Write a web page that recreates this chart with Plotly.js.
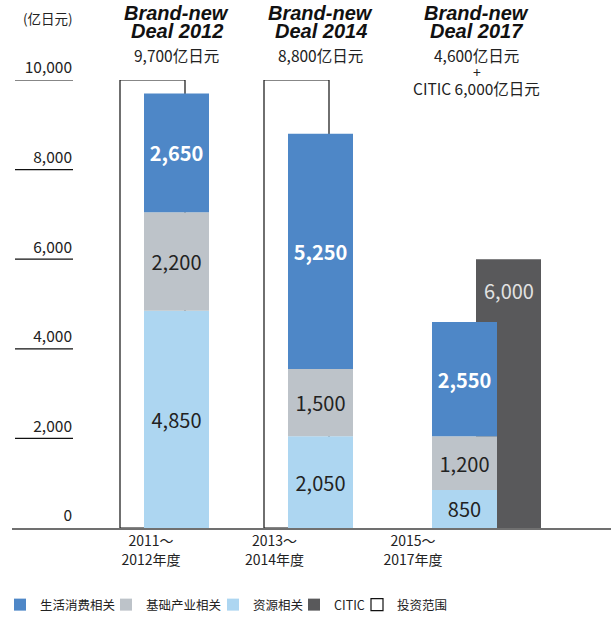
<!DOCTYPE html>
<html><head><meta charset="utf-8">
<script src="https://cdn.plot.ly/plotly-3.0.1.min.js"></script>
<style>body{margin:0;padding:0;background:#fff}#chart{width:611px;height:617px}</style>
</head><body><div id="chart"></div>
<script>
// ---- data ----
const categories = ['2011～<br>2012年度', '2013～<br>2014年度', '2015～<br>2017年度'];
const dealLine1 = ['Brand-new', 'Brand-new', 'Brand-new'];
const dealLine2 = ['Deal 2012', 'Deal 2014', 'Deal 2017'];
const consumer = [2650, 5250, 2550];   // 生活消费相关
const infra = [2200, 1500, 1200];      // 基础产业相关
const resources = [4850, 2050, 850];   // 资源相关
const citic = [null, null, 6000];      // CITIC
const investRange = [10000, 10000, null]; // 投资范围
const yTickVals = [0, 2000, 4000, 6000, 8000, 10000];
const seriesNames = ['生活消费相关', '基础产业相关', '资源相关', 'CITIC', '投资范围'];
const unitLabel = '(亿日元)';

// ---- styling ----
const FONT = '"Noto Sans CJK SC", "Noto Sans", sans-serif';
const C_BLUE = '#4e87c7', C_GREY = '#bdc3c9', C_LIGHT = '#add6f1', C_DARK = '#59595b';
const PX = 144;                  // pixels per category unit
const W = 65 / PX;               // bar width
const xs = categories.map((c, i) => i);
const fmt = v => v == null ? '' : v.toLocaleString('en-US');

const base1 = resources.slice();
const base2 = resources.map((v, i) => v + infra[i]);

const traces = [
  { type: 'bar', name: seriesNames[4], x: xs, y: investRange, width: W, offset: -56.5 / PX, legend: 'legend5',
    marker: { color: '#ffffff', line: { color: '#111', width: 1.2 } }, hoverinfo: 'skip' },
  { type: 'bar', name: seriesNames[3], x: xs, y: citic, width: W, offset: 11.5 / PX, legend: 'legend4',
    marker: { color: C_DARK, line: { width: 0 } }, hoverinfo: 'skip' },
  { type: 'bar', name: seriesNames[2], x: xs, y: resources, base: 0, width: W, offset: -W / 2, legend: 'legend3',
    marker: { color: C_LIGHT, line: { width: 0 } },
    text: resources.map(fmt), textposition: 'inside', insidetextanchor: 'middle', constraintext: 'none',
    textfont: { family: FONT, size: 20, color: '#222' }, hoverinfo: 'skip' },
  { type: 'bar', name: seriesNames[1], x: xs, y: infra, base: base1, width: W, offset: -W / 2, legend: 'legend2',
    marker: { color: C_GREY, line: { width: 0 } },
    text: infra.map(fmt), textposition: 'inside', insidetextanchor: 'middle', constraintext: 'none',
    textfont: { family: FONT, size: 20, color: '#222' }, hoverinfo: 'skip' },
  { type: 'bar', name: seriesNames[0], x: xs, y: consumer, base: base2, width: W, offset: -W / 2, legend: 'legend',
    marker: { color: C_BLUE, line: { width: 0 } },
    text: consumer.map(v => '<b>' + fmt(v) + '</b>'), textposition: 'inside', insidetextanchor: 'middle', constraintext: 'none',
    textfont: { family: FONT, size: 20, color: '#ffffff' }, hoverinfo: 'skip' }
];

// header annotations
const annotations = [];
const headShift = [0, 0, 12];
xs.forEach(i => {
  const total = resources[i] + infra[i] + consumer[i];
  annotations.push({ xref: 'x', x: i, xshift: headShift[i], yref: 'paper', y: 1, yanchor: 'middle', yshift: 80 - 13,
    text: '<b><i>' + dealLine1[i] + '</i></b>', showarrow: false,
    font: { family: '"Liberation Sans", Arial, sans-serif', size: 20, color: '#111' } });
  annotations.push({ xref: 'x', x: i, xshift: headShift[i], yref: 'paper', y: 1, yanchor: 'middle', yshift: 80 - 31,
    text: '<b><i>' + dealLine2[i] + '</i></b>', showarrow: false,
    font: { family: '"Liberation Sans", Arial, sans-serif', size: 20, color: '#111' } });
  annotations.push({ xref: 'x', x: i, xshift: headShift[i], yref: 'paper', y: 1, yanchor: 'middle', yshift: 80 - 55,
    text: fmt(total) + '亿日元', showarrow: false, font: { family: FONT, size: 15.5, color: '#222' } });
  if (citic[i] != null) {
    annotations.push({ xref: 'x', x: i, xshift: headShift[i], yref: 'paper', y: 1, yanchor: 'middle', yshift: 80 - 72,
      text: '+', showarrow: false, font: { family: FONT, size: 14, color: '#222' } });
    annotations.push({ xref: 'x', x: i, xshift: headShift[i], yref: 'paper', y: 1, yanchor: 'middle', yshift: 80 - 88,
      text: 'CITIC ' + fmt(citic[i]) + '亿日元', showarrow: false, font: { family: FONT, size: 15.5, color: '#222' } });
    // CITIC bar label near top of bar
    annotations.push({ xref: 'x', x: i + (11.5 + 32.5) / PX, yref: 'y', y: citic[i], yanchor: 'middle', yshift: -31,
      text: fmt(citic[i]), showarrow: false, font: { family: FONT, size: 20, color: '#e2e2e2' } });
  }
});
// unit label
annotations.push({ xref: 'paper', x: 0, xshift: 36, xanchor: 'center', yref: 'paper', y: 1, yanchor: 'middle', yshift: 80 - 18,
  text: unitLabel, showarrow: false, font: { family: FONT, size: 13.5, color: '#222' } });

// short underline under each y tick label
const shapes = yTickVals.filter(v => v > 0).map(v => ({
  type: 'line', xref: 'paper', x0: 3 / 599, x1: 61 / 599, yref: 'y', y0: v, y1: v,
  line: { color: '#111', width: 1.2 }
}));

// legends: one per series, placed along the bottom
const legendSymbolX = [13, 119, 226, 307, 370];
const legendKeys = ['legend', 'legend2', 'legend3', 'legend4', 'legend5'];
const labelShift = [-25.5, -46, -51.5];
const layout = {
  width: 611, height: 617,
  margin: { l: 12, r: 0, t: 80, b: 89 },
  paper_bgcolor: '#fff', plot_bgcolor: '#fff',
  barmode: 'overlay',
  showlegend: true,
  font: { family: FONT, color: '#222' },
  xaxis: {
    range: [-164.5 / PX, 434.5 / PX], fixedrange: true,
    tickmode: 'array', tickvals: xs.map(i => i + labelShift[i] / PX), ticktext: categories,
    ticks: '', showgrid: false, zeroline: false,
    showline: true, linecolor: '#707070', linewidth: 1.5,
    tickfont: { family: FONT, size: 14, color: '#222' }
  },
  yaxis: {
    range: [0, 10000], fixedrange: true,
    anchor: 'free', position: 60 / 599,
    tickmode: 'array', tickvals: yTickVals, ticktext: yTickVals.map(fmt),
    ticks: '', showgrid: false, zeroline: false, showline: false,
    ticklabelshift: -12,
    tickfont: { family: FONT, size: 15.5, color: '#222' }
  },
  annotations: annotations,
  shapes: shapes
};
legendKeys.forEach((k, j) => {
  layout[k] = {
    orientation: 'h', xref: 'container', yref: 'container',
    x: (legendSymbolX[j] - 13) / 611, xanchor: 'left', y: 1 - 605 / 617, yanchor: 'middle',
    font: { family: FONT, size: 12.5, color: '#222' }, bgcolor: 'rgba(0,0,0,0)'
  };
});

Plotly.newPlot('chart', traces, layout, { staticPlot: true, displayModeBar: false });
</script>
</body></html>
